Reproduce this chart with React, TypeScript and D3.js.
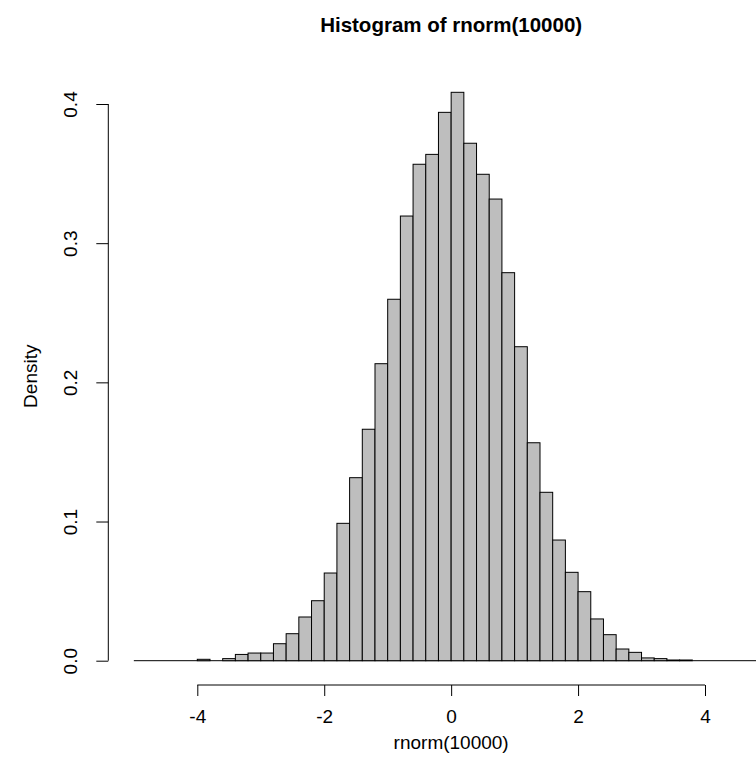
import { useEffect, useRef } from 'react'
import * as d3 from 'd3'

// bin left edges (width 0.2) and densities
const binStart = [
  -4.0, -3.8, -3.6, -3.4, -3.2, -3.0, -2.8, -2.6, -2.4, -2.2,
  -2.0, -1.8, -1.6, -1.4, -1.2, -1.0, -0.8, -0.6, -0.4, -0.2,
  0.0, 0.2, 0.4, 0.6, 0.8, 1.0, 1.2, 1.4, 1.6, 1.8,
  2.0, 2.2, 2.4, 2.6, 2.8, 3.0, 3.2, 3.4, 3.6,
]
const density = [
  0.001, 0, 0.0015, 0.0045, 0.0055, 0.0055, 0.0122, 0.0194, 0.0314, 0.0431,
  0.063, 0.0987, 0.1315, 0.1663, 0.2134, 0.2597, 0.3195, 0.3567, 0.3638, 0.394,
  0.4084, 0.3718, 0.3495, 0.3317, 0.2788, 0.2256, 0.1566, 0.121, 0.0867, 0.0635,
  0.0496, 0.03, 0.0187, 0.0084, 0.006, 0.002, 0.0015, 0.0005, 0.0005,
]
const binWidth = 0.2
const xTicks = [-4, -2, 0, 2, 4]
const yTicks = [0, 0.1, 0.2, 0.3, 0.4]

const W = 756
const H = 779
const FONT = '"Liberation Sans", Arial, Helvetica, sans-serif'
const LABEL_SIZE = 19

export default function App() {
  const ref = useRef<SVGSVGElement>(null)

  useEffect(() => {
    if (!ref.current) return
    const svg = d3.select(ref.current)
    svg.selectAll('*').remove()

    const x = d3.scaleLinear().domain([-4, 4]).range([197.3, 705])
    const y = d3.scaleLinear().domain([0, 0.4]).range([660.7, 104])

    const bins = binStart.map((b, i) => ({ x0: b, x1: b + binWidth, d: density[i] }))

    // baseline across the plot x range
    svg.append('line')
      .attr('x1', x(-5)).attr('x2', x(5))
      .attr('y1', y(0)).attr('y2', y(0))
      .attr('stroke', '#000')

    // bars
    svg.append('g')
      .selectAll('rect')
      .data(bins)
      .join('rect')
      .attr('x', (d) => x(d.x0))
      .attr('y', (d) => y(d.d))
      .attr('width', (d) => x(d.x1) - x(d.x0))
      .attr('height', (d) => y(0) - y(d.d))
      .attr('fill', '#bebebe')
      .attr('stroke', '#000')
      .attr('stroke-width', 1)

    // x axis
    const ax = svg.append('g')
      .attr('transform', 'translate(0,685)')
      .call(d3.axisBottom(x).tickValues(xTicks).tickSize(11).tickPadding(14).tickFormat((v) => `${v}`))
    ax.select('.domain').attr('stroke', '#000').attr('d', `M${x(-4)},0H${x(4)}`)
    ax.selectAll('text').attr('font-size', LABEL_SIZE).attr('font-family', FONT).attr('fill', '#000')

    // y axis
    const ay = svg.append('g')
      .attr('transform', 'translate(108.3,0)')
      .call(d3.axisLeft(y).tickValues(yTicks).tickSize(12).tickFormat(d3.format('.1f')))
    ay.select('.domain').attr('stroke', '#000').attr('d', `M0,${y(0)}V${y(0.4)}`)
    ay.selectAll('text')
      .attr('font-size', LABEL_SIZE)
      .attr('font-family', FONT)
      .attr('fill', '#000')
      .attr('text-anchor', 'middle')
      .attr('x', 0)
      .attr('dy', 0)
      .attr('transform', 'translate(-31,0) rotate(-90)')

    // titles
    svg.append('text')
      .attr('x', x(0)).attr('y', 32)
      .attr('text-anchor', 'middle')
      .attr('font-size', 20.5)
      .attr('font-weight', 'bold')
      .attr('font-family', FONT)
      .text('Histogram of rnorm(10000)')

    svg.append('text')
      .attr('x', x(0)).attr('y', 749)
      .attr('text-anchor', 'middle')
      .attr('font-size', LABEL_SIZE)
      .attr('font-family', FONT)
      .text('rnorm(10000)')

    svg.append('text')
      .attr('transform', `translate(37,${y(0.2044)}) rotate(-90)`)
      .attr('text-anchor', 'middle')
      .attr('font-size', LABEL_SIZE)
      .attr('font-family', FONT)
      .text('Density')
  }, [])

  return (
    <svg
      ref={ref}
      width={W}
      height={H}
      viewBox={`0 0 ${W} ${H}`}
      style={{ position: 'absolute', left: 0, top: 0, background: '#fff', display: 'block' }}
    />
  )
}
